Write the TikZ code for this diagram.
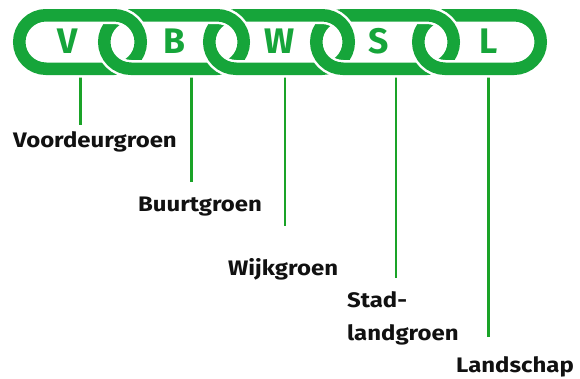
\documentclass[tikz,border=0pt]{standalone}
\usepackage{fontspec}
\newfontfamily\lblfont[FakeStretch=1.14]{Fira Sans}
\newfontfamily\chainfont{Fira Sans}
\definecolor{chaingreen}{RGB}{22,165,58}
\definecolor{stemgreen}{RGB}{26,163,40}
\definecolor{inkblack}{RGB}{17,17,17}
\tikzset{
  ringwhite/.style={draw=white, line width=17.5pt, rounded corners=26.75pt},
  ringgreen/.style={draw=chaingreen, line width=12.5pt, rounded corners=26.75pt},
  letterlbl/.style={inner sep=0pt, anchor=base, text=chaingreen, font=\chainfont\bfseries\fontsize{35.5}{35.5}\selectfont},
  stemline/.style={draw=stemgreen, line width=2.5pt},
  namelbl/.style={inner sep=0pt, anchor=base west, text=inkblack, align=left, font=\lblfont\bfseries\fontsize{21}{33.7}\selectfont},
}
\begin{document}
\begin{tikzpicture}[x=1pt,y=-1pt]
\useasboundingbox (0,0) rectangle (580,378);
% stems
\coordinate (t1) at (80.7,72);  \coordinate (b1) at (80.7,125);
\coordinate (t2) at (191.7,72); \coordinate (b2) at (191.7,181.7);
\coordinate (t3) at (285,72);   \coordinate (b3) at (285,225.7);
\coordinate (t4) at (396,72);   \coordinate (b4) at (396,278.3);
\coordinate (t5) at (488.3,72); \coordinate (b5) at (488.3,337.3);
\foreach \i in {1,...,5} { \draw[stemline] (t\i) -- (b\i); }
% chain links, full
\foreach \a/\b in {19.25/140.75, 104.25/243.75, 209.25/348.75, 316.25/453.75, 418.25/540.75} {
  \draw[ringwhite] (\a,15.25) rectangle (\b,68.75);
  \draw[ringgreen] (\a,15.25) rectangle (\b,68.75);
}
% upper halves redrawn to interlock
\begin{scope}
  \clip (0,0) rectangle (580,42);
  \foreach \a/\b in {316.25/453.75, 209.25/348.75, 104.25/243.75, 19.25/140.75} {
    \draw[ringwhite] (\a,15.25) rectangle (\b,68.75);
    \draw[ringgreen] (\a,15.25) rectangle (\b,68.75);
  }
\end{scope}
% letters
\node[letterlbl] (lv) at (67.5,53) {V};
\node[letterlbl] (lb) at (174,53) {B};
\node[letterlbl] (lw) at (280,53) {W};
\node[letterlbl] (ls) at (379,53) {S};
\node[letterlbl] (ll) at (488.5,53) {L};
% labels
\node[namelbl] (n1) at (13,147.5) {Voordeurgroen};
\node[namelbl] (n2) at (138,211.5) {Buurtgroen};
\node[namelbl] (n3) at (228,275) {Wijkgroen};
\node[namelbl] (n4) at (347,340.7) {Stad-\\landgroen};
\node[namelbl] (n5) at (456,372) {Landschap};
\end{tikzpicture}
\end{document}
